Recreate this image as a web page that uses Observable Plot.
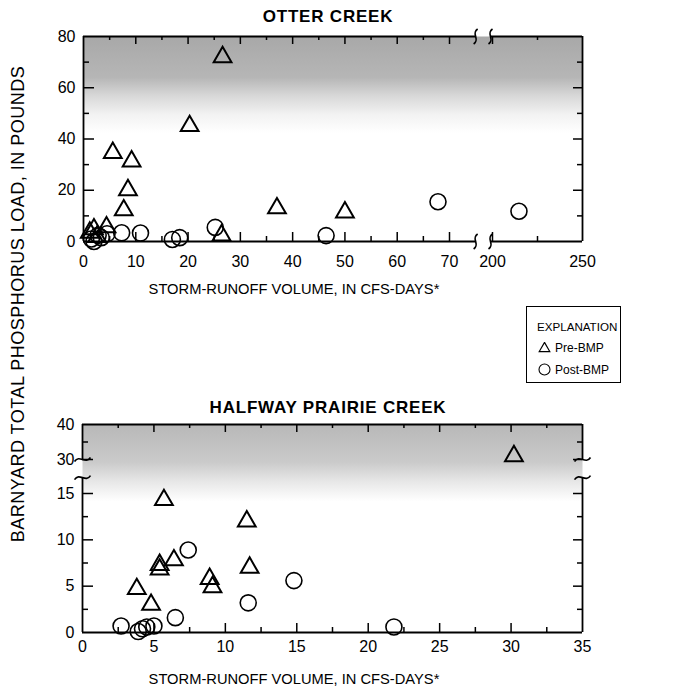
<!DOCTYPE html>
<html><head><meta charset="utf-8">
<script src="https://cdn.jsdelivr.net/npm/d3@7"></script>
<script src="https://cdn.jsdelivr.net/npm/@observablehq/plot@0.6"></script>
<style>
html,body{margin:0;padding:0;background:#fff;}
#root{position:relative;width:687px;height:698px;overflow:hidden;font-family:"Liberation Sans",Arial,Helvetica,sans-serif;color:#000;}
.abs{position:absolute;white-space:nowrap;line-height:1;}
.plot{position:absolute;left:0;}
#legend{position:absolute;left:526px;top:306px;width:95px;height:77px;border:1.5px solid #000;box-sizing:border-box;font-size:12px;}
#legend .row{position:absolute;left:11px;display:flex;align-items:center;gap:4px;line-height:1;white-space:nowrap;}
</style></head>
<body>
<svg width="0" height="0" style="position:absolute">
  <defs>
    <linearGradient id="shadeTop" x1="0" y1="0" x2="0" y2="1">
      <stop offset="0" stop-color="#a8a8a8"/>
      <stop offset="0.2" stop-color="#b6b6b6"/>
      <stop offset="0.29" stop-color="#d8d8d8"/>
      <stop offset="0.38" stop-color="#f2f2f2"/>
      <stop offset="0.47" stop-color="#ffffff"/>
      <stop offset="1" stop-color="#ffffff"/>
    </linearGradient>
    <linearGradient id="shadeBottom" x1="0" y1="0" x2="0" y2="1">
      <stop offset="0" stop-color="#b8b8b8"/>
      <stop offset="0.18" stop-color="#cacaca"/>
      <stop offset="0.27" stop-color="#e6e6e6"/>
      <stop offset="0.37" stop-color="#ffffff"/>
      <stop offset="1" stop-color="#ffffff"/>
    </linearGradient>
  </defs>
</svg>
<div id="root"></div>
<script>
// ---------------- DATA ----------------
const seriesNames = ["Pre-BMP", "Post-BMP"];

// OTTER CREEK (storm-runoff volume, cfs-days ; phosphorus load, pounds)
const otterPreVolume  = [1.2, 2.0, 2.6, 4.4, 5.6, 9.2, 8.5, 7.7, 20.3, 26.6, 26.4, 37.0, 50.0];
const otterPreLoad    = [3.5, 4.8, 1.8, 5.6, 34.6, 31.3, 20.1, 12.2, 45.1, 72.0, 2.4, 13.0, 11.4];
const otterPostVolume = [1.5, 2.0, 2.8, 3.4, 4.5, 7.3, 10.9, 17.0, 18.4, 25.2, 46.4, 67.8, 214.7];
const otterPostLoad   = [1.0, 0.0, 2.4, 1.5, 3.0, 3.4, 3.3, 0.8, 1.5, 5.5, 2.3, 15.5, 11.8];

// HALFWAY PRAIRIE CREEK
const halfwayPreVolume  = [3.8, 4.8, 5.4, 5.4, 5.7, 6.4, 8.9, 9.1, 11.5, 11.7, 30.2];
const halfwayPreLoad    = [4.7, 3.0, 7.3, 6.8, 14.3, 7.8, 5.8, 4.9, 12.0, 7.0, 31.0];
const halfwayPostVolume = [2.7, 3.9, 4.2, 4.5, 5.0, 6.5, 7.4, 11.6, 14.8, 21.8];
const halfwayPostLoad   = [0.7, 0.1, 0.4, 0.6, 0.7, 1.6, 8.9, 3.2, 5.6, 0.6];

// Tick labels and broken-axis pieces
const otterXTickLabels   = [0, 10, 20, 30, 40, 50, 60, 70, 200, 250];
const otterYTickLabels   = [0, 20, 40, 60, 80];
const otterXMajorTicks   = [10, 20, 30, 40, 50, 60, 70, 200];
const otterXMinorTicks   = [5, 15, 25, 35, 45, 55, 65, 225];
const otterYMajorTicks   = [20, 40, 60];
const otterYMinorTicks   = [10, 30, 50, 70];
const otterXPieces       = [0, 70, 200, 250];
const otterYDomain       = [0, 80];
const otterXGap          = [149, 194];

const halfwayXTickLabels = [0, 5, 10, 15, 20, 25, 30, 35];
const halfwayYTickLabels = [0, 5, 10, 15, 30, 40];
const halfwayXMajorTicks = [5, 10, 15, 20, 25, 30];
const halfwayXMinorTicks = [2.5, 7.5, 12.5, 17.5, 22.5, 27.5, 32.5];
const halfwayYMajorTicks = [5, 10, 15, 30];
const halfwayYMinorTicks = [2.5, 7.5, 12.5, 35];
const halfwayXDomain     = [0, 35];
const halfwayYPieces     = [0, 15, 30, 40];
const halfwayYGap        = [22, 30];

const xTitle = "STORM-RUNOFF VOLUME, IN CFS-DAYS*";
const yTitle = "BARNYARD TOTAL PHOSPHORUS LOAD, IN POUNDS";
const titles = ["OTTER CREEK", "HALFWAY PRAIRIE CREEK"];
const legendTitle = "EXPLANATION";

// ---------------- HELPERS ----------------
const zip = (xs, ys) => xs.map((x, i) => ({volume: x, load: ys[i]}));
const root = document.getElementById("root");
function addText(txt, css) {
  const d = document.createElement("div");
  d.className = "abs";
  d.textContent = txt;
  Object.assign(d.style, css);
  root.appendChild(d);
  return d;
}
// axis-break squiggles
const vSquiggle = {draw(ctx) { ctx.moveTo(-2, 7.5); ctx.bezierCurveTo(5, 3, -5, -3, 2, -7.5); }};
const hSquiggle = {draw(ctx) { ctx.moveTo(-8, 2); ctx.bezierCurveTo(-3, -5.5, 3, 5.5, 8, -2); }};
const AX = {stroke: "#000", strokeWidth: 1.8};
const TK = {stroke: "#000", strokeWidth: 1.5};
const LBL = {tickSize: 0, label: null, fontSize: 16, fill: "#000"};

function panel({top, height, ml, mr, mt, mb, x, y, xLo, xHi, yLo, yHi, pre, post, shade, xMaj, xMin, yMaj, yMin, xLab, yLab, xPad, extra}) {
  // same mapping as the Plot scales, used only to turn pixel tick lengths into data offsets
  const sx = d3.scaleLinear(x.domain, x.range), sy = d3.scaleLinear(y.domain, y.range);
  const yAt = (v, px) => sy.invert(sy(v) + px);
  const xAt = (v, px) => sx.invert(sx(v) + px);
  const svg = Plot.plot({
    width: 687, height,
    marginLeft: ml, marginRight: mr, marginTop: mt, marginBottom: mb,
    style: {fontFamily: '"Liberation Sans", Arial, Helvetica, sans-serif', color: "#000", background: "transparent", overflow: "visible"},
    x: {type: "linear", ...x, axis: null},
    y: {type: "linear", ...y, axis: null},
    marks: [
      Plot.frame({fill: `url(#${shade})`, stroke: "none"}),
      ...extra,
      // inward tick marks on all four sides
      Plot.ruleX(xMaj, {y1: yLo, y2: yAt(yLo, -9), ...TK}),
      Plot.ruleX(xMaj, {y1: yHi, y2: yAt(yHi, 8), ...TK}),
      Plot.ruleX(xMin, {y1: yLo, y2: yAt(yLo, -5), ...TK}),
      Plot.ruleX(xMin, {y1: yHi, y2: yAt(yHi, 4), ...TK}),
      Plot.ruleY(yMaj, {x1: xLo, x2: xAt(xLo, 11), ...TK}),
      Plot.ruleY(yMaj, {x1: xHi, x2: xAt(xHi, -9), ...TK}),
      Plot.ruleY(yMin, {x1: xLo, x2: xAt(xLo, 6), ...TK}),
      Plot.ruleY(yMin, {x1: xHi, x2: xAt(xHi, -5), ...TK}),
      Plot.axisX(xLab, {anchor: "bottom", tickPadding: xPad, tickFormat: d => String(d), ...LBL}),
      Plot.axisY(yLab, {anchor: "left", tickPadding: 8, tickFormat: d => String(d), ...LBL}),
      Plot.dot(pre, {x: "volume", y: "load", symbol: "triangle", r: 6.6, stroke: "#000", strokeWidth: 2, fill: "none"}),
      Plot.dot(post, {x: "volume", y: "load", symbol: "circle", r: 8, stroke: "#000", strokeWidth: 1.6, fill: "none"})
    ]
  });
  svg.classList.add("plot");
  svg.style.top = top + "px";
  root.appendChild(svg);
  return svg;
}

// ---------------- OTTER CREEK ----------------
panel({
  top: 0, height: 300, ml: 83, mr: 105, mt: 36, mb: 59, xPad: 14,
  x: {domain: otterXPieces, range: [83, 449, 492, 582]},
  y: {domain: otterYDomain, range: [241, 36]},
  xLo: otterXPieces[0], xHi: otterXPieces[3], yLo: otterYDomain[0], yHi: otterYDomain[1],
  pre: zip(otterPreVolume, otterPreLoad),
  post: zip(otterPostVolume, otterPostLoad),
  shade: "shadeTop",
  xMaj: otterXMajorTicks, xMin: otterXMinorTicks, yMaj: otterYMajorTicks, yMin: otterYMinorTicks,
  xLab: otterXTickLabels, yLab: otterYTickLabels,
  extra: [
    Plot.ruleX([0], AX),
    Plot.ruleX([250], AX),
    Plot.ruleY([0], {x1: 0, x2: otterXGap[0], ...AX}),
    Plot.ruleY([0], {x1: otterXGap[1], x2: 250, ...AX}),
    Plot.ruleY([80], {x1: 0, x2: otterXGap[0], ...AX}),
    Plot.ruleY([80], {x1: otterXGap[1], x2: 250, ...AX}),
    Plot.dot([0, 80].flatMap(v => otterXGap.map(g => ({x: g, y: v}))), {x: "x", y: "y", symbol: vSquiggle, r: 1, stroke: "#000", strokeWidth: 1.7, fill: "none"})
  ]
});

// ---------------- HALFWAY PRAIRIE CREEK ----------------
panel({
  top: 380, height: 318, ml: 82, mr: 105, mt: 44, mb: 66, xPad: 8,
  x: {domain: halfwayXDomain, range: [82, 582]},
  y: {domain: halfwayYPieces, range: [252, 113, 79, 44]},
  xLo: halfwayXDomain[0], xHi: halfwayXDomain[1], yLo: halfwayYPieces[0], yHi: halfwayYPieces[3],
  pre: zip(halfwayPreVolume, halfwayPreLoad),
  post: zip(halfwayPostVolume, halfwayPostLoad),
  shade: "shadeBottom",
  xMaj: halfwayXMajorTicks, xMin: halfwayXMinorTicks, yMaj: halfwayYMajorTicks, yMin: halfwayYMinorTicks,
  xLab: halfwayXTickLabels, yLab: halfwayYTickLabels,
  extra: [
    Plot.ruleY([0], AX),
    Plot.ruleY([40], AX),
    Plot.ruleX([0], {y1: 0, y2: halfwayYGap[0], ...AX}),
    Plot.ruleX([0], {y1: halfwayYGap[1], y2: 40, ...AX}),
    Plot.ruleX([35], {y1: 0, y2: halfwayYGap[0], ...AX}),
    Plot.ruleX([35], {y1: halfwayYGap[1], y2: 40, ...AX}),
    Plot.dot([0, 35].flatMap(v => halfwayYGap.map(g => ({x: v, y: g}))), {x: "x", y: "y", symbol: hSquiggle, r: 1, stroke: "#000", strokeWidth: 1.7, fill: "none"})
  ]
});

// ---------------- TEXT ----------------
const titleCss = {fontWeight: "bold", fontSize: "17px", letterSpacing: "0.8px", transform: "translate(-50%,-50%)"};
addText(titles[0], {left: "328px", top: "16px", ...titleCss});
addText(titles[1], {left: "328px", top: "407px", ...titleCss});
const xtCss = {fontSize: "14.7px", transform: "translate(-50%,-50%)"};
addText(xTitle, {left: "294px", top: "289px", ...xtCss});
addText(xTitle, {left: "294px", top: "679px", ...xtCss});
addText(yTitle, {left: "18px", top: "304px", fontSize: "18px", letterSpacing: "0.5px", transform: "translate(-50%,-50%) rotate(-90deg)"});

// ---------------- LEGEND ----------------
const legend = document.createElement("div");
legend.id = "legend";
legend.innerHTML = `<div class="abs" style="left:10px;top:14px;font-size:11.6px">${legendTitle}</div>`;
const swatches = [
  `<svg width="13" height="12" viewBox="-6.5 -6.5 13 12"><path d="${d3.symbol(d3.symbolTriangle, 48)()}" fill="none" stroke="#000" stroke-width="1.2"/></svg>`,
  `<svg width="13" height="13" viewBox="-6.5 -6.5 13 13"><circle r="5.5" fill="none" stroke="#000" stroke-width="1.1"/></svg>`
];
seriesNames.forEach((name, i) => {
  const row = document.createElement("div");
  row.className = "row";
  row.style.top = (35 + i * 21) + "px";
  row.innerHTML = swatches[i] + `<span>${name}</span>`;
  legend.appendChild(row);
});
root.appendChild(legend);
</script>
</body></html>
